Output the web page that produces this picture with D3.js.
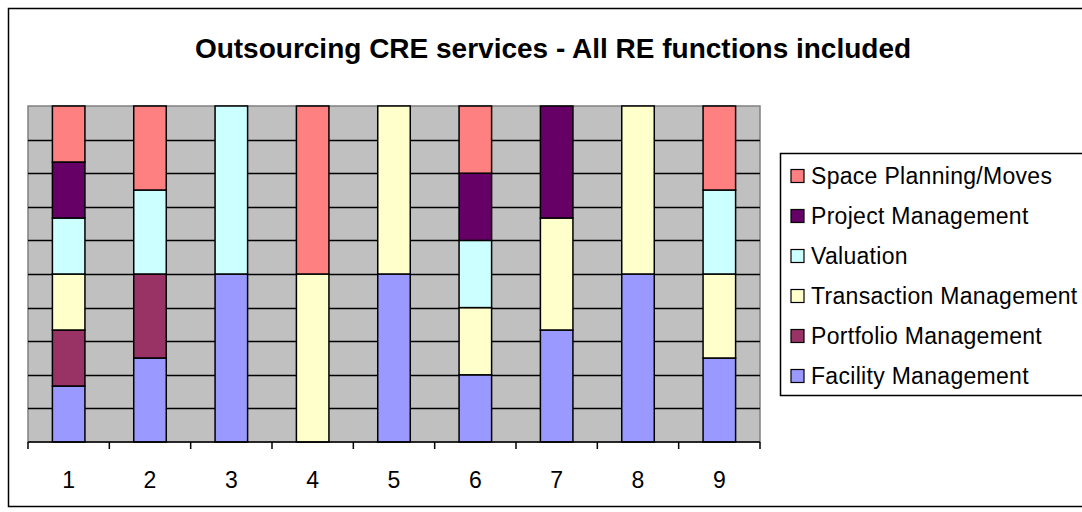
<!DOCTYPE html>
<html>
<head>
<meta charset="utf-8">
<script src="https://cdn.jsdelivr.net/npm/d3@7"></script>
<style>
  body { margin: 0; background: #fff; }
  svg { display: block; font-family: "Liberation Sans", Arial, sans-serif; }
</style>
</head>
<body>
<div id="chart"></div>
<script>
// data (one unit per function that is outsourced)
const categories = ['1', '2', '3', '4', '5', '6', '7', '8', '9'];
const seriesNames = ['Facility Management', 'Portfolio Management', 'Transaction Management',
    'Valuation', 'Project Management', 'Space Planning/Moves'];
const facility    = [1, 1, 1, 0, 1, 1, 1, 1, 1];
const portfolio   = [1, 1, 0, 0, 0, 0, 0, 0, 0];
const transaction = [1, 0, 0, 1, 1, 1, 1, 1, 1];
const valuation   = [1, 1, 1, 0, 0, 1, 0, 0, 1];
const project     = [1, 0, 0, 0, 0, 1, 1, 0, 0];
const space       = [1, 1, 0, 1, 0, 1, 0, 0, 1];
const colors = ['#9999FF', '#993366', '#FFFFCC', '#CCFFFF', '#660066', '#FF8080'];
const title = 'Outsourcing CRE services - All RE functions included';

// table for d3.stack
const seriesValues = [facility, portfolio, transaction, valuation, project, space];
const table = categories.map((c, i) => {
    const row = {cat: c};
    seriesNames.forEach((s, j) => { row[s] = seriesValues[j][i]; });
    return row;
});

const W = 1082, H = 512;
const plot = {left: 28, top: 106, right: 760, bottom: 442};

const svg = d3.select('#chart')
    .append('svg')
    .attr('width', W)
    .attr('height', H);

// outer chart frame
svg.append('rect')
    .attr('x', 8.5).attr('y', 8.5)
    .attr('width', 1100).attr('height', 498)
    .attr('fill', '#fff')
    .attr('stroke', '#000')
    .attr('stroke-width', 1.5);

// title
svg.append('text')
    .attr('x', 553)
    .attr('y', 58)
    .attr('text-anchor', 'middle')
    .attr('font-size', 28)
    .attr('font-weight', 'bold')
    .text(title);

const x = d3.scaleBand()
    .domain(categories)
    .range([plot.left, plot.right])
    .paddingInner(0)
    .paddingOuter(0);

const y = d3.scaleLinear()
    .domain([0, 1])
    .range([plot.bottom, plot.top]);

const barW = x.bandwidth() / 2.5;

// plot area
svg.append('rect')
    .attr('x', plot.left).attr('y', plot.top)
    .attr('width', plot.right - plot.left)
    .attr('height', plot.bottom - plot.top)
    .attr('fill', '#C0C0C0')
    .attr('stroke', '#808080')
    .attr('stroke-width', 1.5);

// horizontal gridlines
svg.append('g')
    .selectAll('line')
    .data(d3.range(1, 10).map(d => d / 10))
    .join('line')
    .attr('x1', plot.left).attr('x2', plot.right)
    .attr('y1', d => Math.round(y(d)) + 0.5)
    .attr('y2', d => Math.round(y(d)) + 0.5)
    .attr('stroke', '#000')
    .attr('stroke-width', 1.5);

// stacked 100% bars
const stack = d3.stack()
    .keys(seriesNames)
    .offset(d3.stackOffsetExpand);
const stacked = stack(table);

svg.append('g')
    .selectAll('g')
    .data(stacked)
    .join('g')
    .attr('fill', (d, i) => colors[i])
    .selectAll('rect')
    .data(d => d.filter(s => s[1] - s[0] > 0))
    .join('rect')
    .attr('x', d => x(d.data.cat) + (x.bandwidth() - barW) / 2)
    .attr('y', d => y(d[1]))
    .attr('width', barW)
    .attr('height', d => y(d[0]) - y(d[1]))
    .attr('stroke', '#000')
    .attr('stroke-width', 1.5);

// x axis: ticks between categories
const xAxis = svg.append('g')
    .attr('transform', `translate(0, ${plot.bottom})`);
xAxis.append('line')
    .attr('x1', plot.left).attr('x2', plot.right)
    .attr('stroke', '#000')
    .attr('stroke-width', 1.5);
xAxis.selectAll('.tick')
    .data(categories.concat(['end']))
    .join('line')
    .attr('x1', (d, i) => plot.left + i * x.step())
    .attr('x2', (d, i) => plot.left + i * x.step())
    .attr('y1', 0).attr('y2', 7)
    .attr('stroke', '#000')
    .attr('stroke-width', 1.5);
xAxis.selectAll('text')
    .data(categories)
    .join('text')
    .attr('x', d => x(d) + x.bandwidth() / 2)
    .attr('y', 46)
    .attr('text-anchor', 'middle')
    .attr('font-size', 23)
    .text(d => d);

// legend (top entry = last series)
const legend = svg.append('g');
legend.append('rect')
    .attr('x', 780.5).attr('y', 153.5)
    .attr('width', 400).attr('height', 242)
    .attr('fill', '#fff')
    .attr('stroke', '#000')
    .attr('stroke-width', 1.5);
const legendItems = seriesNames.slice().reverse();
const item = legend.selectAll('g.item')
    .data(legendItems)
    .join('g')
    .attr('transform', (d, i) => `translate(791, ${176 + i * 40})`);
item.append('rect')
    .attr('x', 0).attr('y', -6.5)
    .attr('width', 13).attr('height', 13)
    .attr('fill', d => colors[seriesNames.indexOf(d)])
    .attr('stroke', '#000')
    .attr('stroke-width', 1.2);
item.append('text')
    .attr('x', 20)
    .attr('y', 8)
    .attr('font-size', 23)
    .attr('letter-spacing', 0.3)
    .text(d => d);
</script>
</body>
</html>
